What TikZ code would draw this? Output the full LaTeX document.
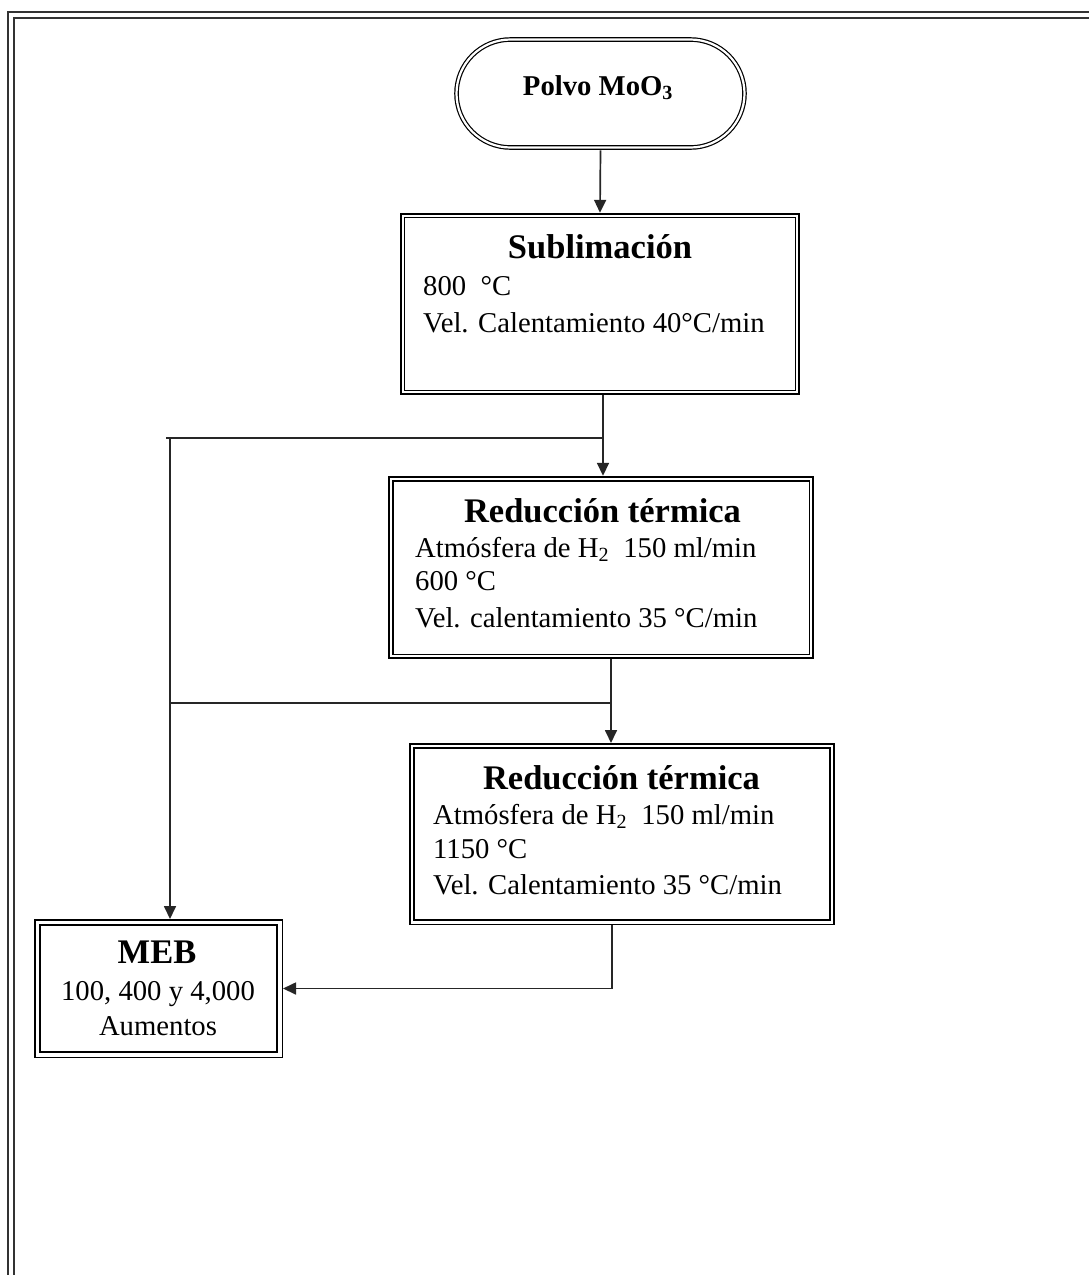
\documentclass[tikz,border=0pt]{standalone}
\usepackage{fontspec}
\setmainfont{Liberation Serif}
\usetikzlibrary{arrows.meta}
% inner line of a framed box: offset #2 inwards, style #3
\newcommand\innerframe[3]{%
  \draw[#3] ([shift={(#2,#2)}]#1.north west) rectangle ([shift={(-#2,-#2)}]#1.south east);}
\begin{document}
\begin{tikzpicture}[x=1pt,y=-1pt,
  body/.style={font=\fontsize{28.7}{34}\selectfont, inner sep=0pt},
  bodyb/.style={font=\fontsize{28.7}{34}\selectfont\bfseries, inner sep=0pt},
  ttl/.style={font=\fontsize{34.5}{40}\selectfont\bfseries, inner sep=0pt},
  heavybox/.style={draw, line width=2.4pt, inner sep=0pt},
  lightbox/.style={draw, line width=1.5pt, inner sep=0pt},
  conn/.style={line width=1.7pt, draw=black!85},
  arr/.style={conn, -{Triangle[length=13pt,width=12pt]}},
  frameline/.style={line width=1.8pt, draw=black!80}
]
\useasboundingbox (0,0) rectangle (1089,1275);
\clip (0,0) rectangle (1089,1275);
\fill[white] (0,0) rectangle (1089,1275);

% page frame (double rule, top and left)
\draw[frameline] (8,1290) -- (8,12) -- (1100,12);
\draw[frameline, line width=1.5pt] (14,1290) -- (14,18) -- (1100,18);

% start terminal
\node[draw, double, double distance=2.2pt, line width=1.2pt, rounded corners=54pt,
      minimum width=288pt, minimum height=108pt, inner sep=0pt] (start) at (600.5,93.5) {};
\node[bodyb, anchor=base] (startlbl) at (598,95) {Polvo MoO\textsubscript{3}};

% sublimation step
\node[heavybox, minimum width=398pt, minimum height=180pt] (sub) at (600,304) {};
\innerframe{sub}{4.5}{line width=1.4pt}
\node[ttl, anchor=base] (subt) at (600,258) {Sublimación};
\node[body, anchor=base west] (sub1) at (423,295) {800\ \ °C};
\node[body, anchor=base west] (sub2) at (423,332) {Vel. Calentamiento 40°C/min};

% first thermal reduction
\node[heavybox, minimum width=424pt, minimum height=181pt] (red1) at (601,567.5) {};
\innerframe{red1}{5}{line width=1.4pt}
\node[ttl, anchor=base] (red1t) at (602.5,522) {Reducción térmica};
\node[body, anchor=base west] (red1a) at (415,557) {Atmósfera de H\textsubscript{2}\ \ 150 ml/min};
\node[body, anchor=base west] (red1b) at (415,590) {600 °C};
\node[body, anchor=base west] (red1c) at (415,627) {Vel. calentamiento 35 °C/min};

% second thermal reduction
\node[lightbox, minimum width=424pt, minimum height=180.5pt] (red2) at (622,834) {};
\innerframe{red2}{5}{line width=1.6pt}
\node[ttl, anchor=base] (red2t) at (621.5,789) {Reducción térmica};
\node[body, anchor=base west] (red2a) at (433,824) {Atmósfera de H\textsubscript{2}\ \ 150 ml/min};
\node[body, anchor=base west] (red2b) at (433,858) {1150 °C};
\node[body, anchor=base west] (red2c) at (433,894) {Vel. Calentamiento 35 °C/min};

% SEM observation
\node[lightbox, minimum width=247.5pt, minimum height=137.5pt] (meb) at (158.5,988.5) {};
\innerframe{meb}{6}{line width=1.8pt}
\node[ttl, anchor=base] (mebt) at (157,963) {MEB};
\node[body, anchor=base] (meba) at (158,1000) {100, 400 y 4,000};
\node[body, anchor=base] (mebb) at (158,1035) {Aumentos};

% junctions of the connectors
\coordinate (j1) at (603,438);
\coordinate (l1) at (170,438);
\coordinate (j2) at (611,703);
\coordinate (l2) at (170,703);
\coordinate (j3) at (612,989);

% connectors
\draw[arr] ([yshift=-2.3pt]start.south) -- (sub.north);
\draw[arr] (sub.south -| j1) -- (j1 |- red1.north);
\draw[conn] (j1) -- ([xshift=-4pt]l1);
\draw[arr] (l1) -- (l1 |- meb.north);
\draw[arr] (red1.south -| j2) -- (j2 |- red2.north);
\draw[conn] (j2) -- (l2);
\draw[arr] (red2.south -| j3) |- (meb.east);
\end{tikzpicture}
\end{document}
